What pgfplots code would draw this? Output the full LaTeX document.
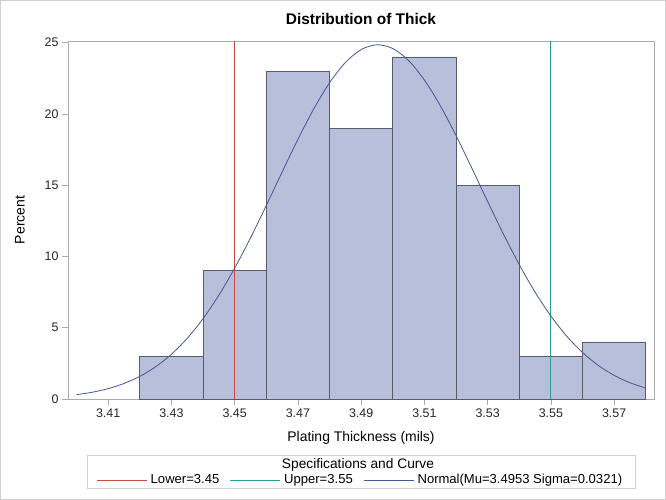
\documentclass[border=0pt]{standalone}
\usepackage{pgfplots}
\pgfplotsset{compat=1.18}
\usepackage{fontspec}
\setmainfont{Liberation Sans}
\definecolor{barfill}{RGB}{183,191,218}
\definecolor{baredge}{RGB}{90,92,108}
\definecolor{curvec}{RGB}{68,86,148}
\definecolor{lowc}{RGB}{205,75,62}
\definecolor{upc}{RGB}{40,160,148}
\definecolor{framec}{RGB}{168,172,178}
\definecolor{outerc}{RGB}{208,208,208}
\begin{document}
\begin{tikzpicture}
\begin{axis}[
  at={(0bp,0bp)}, anchor=south west,
  scale only axis,
  width=586bp, height=358bp,
  xmin=3.3973, xmax=3.5826,
  ymin=0, ymax=25.12,
  xtick={3.41,3.43,3.45,3.47,3.49,3.51,3.53,3.55,3.57},
  xticklabels={3.41,3.43,3.45,3.47,3.49,3.51,3.53,3.55,3.57},
  ytick={0,5,10,15,20,25},
  xtick pos=lower, ytick pos=left,
  tick align=outside,
  major tick length=6bp,
  axis line style={framec},
  every tick/.style={framec, line width=0.6bp},
  /pgf/number format/assume math mode=true,
  ticklabel style={font=\fontsize{12.5}{14}\selectfont, text=black!85},
  xlabel={Plating Thickness (mils)},
  ylabel={Percent},
  label style={font=\fontsize{14}{16}\selectfont},
  xlabel style={at={(axis description cs:0.5,-0.1089)}, anchor=center},
  ylabel style={at={(axis description cs:-0.0819,0.5)}, anchor=center},
  legend style={at={(axis description cs:0.5,-0.2263)}, anchor=center,
    draw=none, fill=none, legend columns=3,
    font=\fontsize{13.1}{15}\selectfont,
    nodes={inner xsep=3.5bp},
    /tikz/every even column/.append style={column sep=7bp},
    inner sep=0pt},
  legend image code/.code={\draw[#1] (0bp,0bp) -- (50bp,0bp);},
]
\addplot[ybar interval, fill=barfill, draw=baredge, line width=0.7bp, forget plot]
  coordinates {(3.42,3) (3.44,9) (3.46,23) (3.48,19) (3.50,24) (3.52,15) (3.54,3) (3.56,4) (3.58,4)};
\addplot[draw=lowc, line width=0.9bp] coordinates {(3.45,0) (3.45,25.12)};
\addlegendentry{Lower=3.45}
\addplot[draw=upc, line width=0.9bp] coordinates {(3.55,0) (3.55,25.12)};
\addlegendentry{Upper=3.55}
\addplot[draw=curvec, line width=0.8bp, smooth] coordinates {
(3.400,0.303) (3.405,0.475) (3.410,0.728) (3.415,1.088) (3.420,1.587)
(3.425,2.260) (3.430,3.139) (3.435,4.258) (3.440,5.636) (3.445,7.281)
(3.450,9.183) (3.455,11.302) (3.460,13.578) (3.465,15.921) (3.470,18.219)
(3.475,20.351) (3.480,22.187) (3.485,23.609) (3.490,24.519) (3.495,24.855)
(3.500,24.591) (3.505,23.747) (3.510,22.382) (3.515,20.589) (3.520,18.487)
(3.525,16.201) (3.530,13.857) (3.535,11.569) (3.540,9.427) (3.545,7.497)
(3.550,5.820) (3.555,4.409) (3.560,3.261) (3.565,2.354) (3.570,1.658)
(3.575,1.140) (3.580,0.765)};
\addlegendentry{Normal(Mu=3.4953 Sigma=0.0321)}
\end{axis}
\node[font=\fontsize{15.5}{18}\selectfont\bfseries] at (293bp,380bp) {Distribution of Thick};
\draw[outerc, line width=0.8bp] (19bp,-56bp) rectangle (567bp,-89bp);
\node[font=\fontsize{13.8}{16}\selectfont] at (290bp,-66bp) {Specifications and Curve};
\draw[outerc, line width=1bp] (-67.5bp,-100.5bp) rectangle (597.5bp,398.5bp);
\pgfresetboundingbox
\path[use as bounding box] (-68bp,-101bp) rectangle (598bp,399bp);
\end{tikzpicture}
\end{document}
